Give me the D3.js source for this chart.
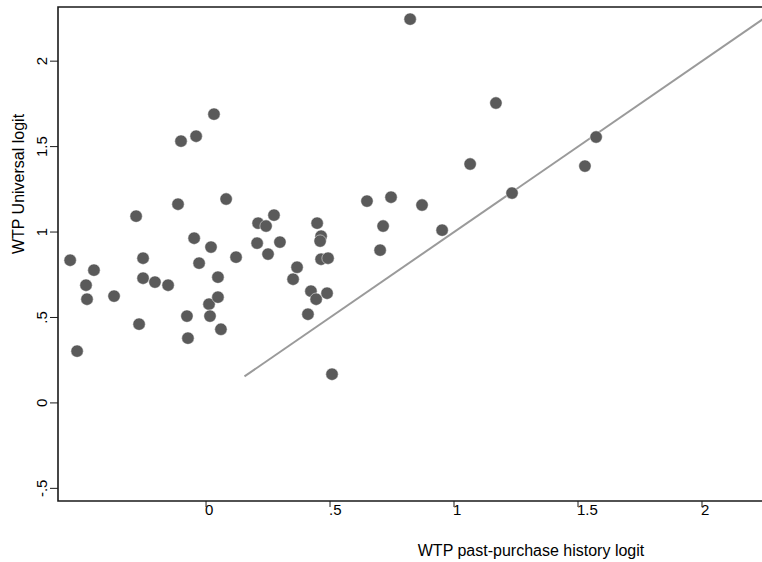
<!DOCTYPE html>
<html>
<head>
<meta charset="utf-8">
<script src="https://cdn.jsdelivr.net/npm/d3@7"></script>
<style>
  body { margin: 0; background: #fff; }
  text { font-family: "Liberation Sans", Arial, Helvetica, sans-serif; fill: #000; }
</style>
</head>
<body>
<div id="chart"></div>
<script>
// Data
const pastPurchase = [
  -0.548, -0.520, -0.484, -0.480, -0.452, -0.371, -0.282, -0.270, -0.254, -0.254,
  -0.206, -0.153, -0.113, -0.101, -0.077, -0.073, -0.048, -0.040, -0.028, 0.012,
  0.016, 0.020, 0.032, 0.048, 0.048, 0.060, 0.081, 0.121, 0.206, 0.210,
  0.242, 0.250, 0.274, 0.298, 0.351, 0.367, 0.411, 0.423, 0.444, 0.448,
  0.464, 0.460, 0.464, 0.492, 0.488, 0.508, 0.649, 0.702, 0.714, 0.746,
  0.823, 0.871, 0.952, 1.065, 1.169, 1.234, 1.528, 1.573
];
const universal = [
  0.835, 0.303, 0.689, 0.607, 0.777, 0.625, 1.093, 0.461, 0.847, 0.730,
  0.707, 0.689, 1.163, 1.532, 0.508, 0.379, 0.964, 1.561, 0.818, 0.578,
  0.508, 0.912, 1.690, 0.736, 0.619, 0.431, 1.193, 0.853, 0.935, 1.052,
  1.035, 0.871, 1.099, 0.941, 0.724, 0.794, 0.519, 0.654, 0.607, 1.052,
  0.976, 0.947, 0.841, 0.847, 0.642, 0.168, 1.181, 0.894, 1.035, 1.204,
  2.246, 1.158, 1.011, 1.398, 1.755, 1.228, 1.386, 1.556
];
// 45-degree reference line (y = x)
const lineX = [0.155, 2.3];

const xTicks = [0, 0.5, 1, 1.5, 2];
const xTickLabels = ["0", ".5", "1", "1.5", "2"];
const yTicks = [-0.5, 0, 0.5, 1, 1.5, 2];
const yTickLabels = ["-.5", "0", ".5", "1", "1.5", "2"];

const width = 762, height = 562;
const plot = { left: 58, top: 7, right: 762, bottom: 501 };

const svg = d3.select("#chart").append("svg")
  .attr("width", width)
  .attr("height", height);

const x = d3.scaleLinear().domain([-0.597, 2.242]).range([plot.left, plot.right]);
const y = d3.scaleLinear().domain([-0.574, 2.317]).range([plot.bottom, plot.top]);

svg.append("clipPath").attr("id", "clip")
  .append("rect")
  .attr("x", plot.left).attr("y", plot.top)
  .attr("width", plot.right - plot.left).attr("height", plot.bottom - plot.top);

// reference line
svg.append("path")
  .datum(lineX)
  .attr("clip-path", "url(#clip)")
  .attr("fill", "none")
  .attr("stroke", "#9a9a9a")
  .attr("stroke-width", 2)
  .attr("d", d3.line().x(d => x(d)).y(d => y(d)));

// points
const points = pastPurchase.map((d, i) => ({ x: d, y: universal[i] }));
svg.append("g")
  .selectAll("circle")
  .data(points)
  .join("circle")
  .attr("cx", d => x(d.x))
  .attr("cy", d => y(d.y))
  .attr("r", 6.2)
  .attr("fill", "#5a5a5a")
  .attr("stroke", "#fff")
  .attr("stroke-width", 0.5);

// frame (right edge runs off the page)
svg.append("path")
  .attr("fill", "none")
  .attr("stroke", "#1a1a1a")
  .attr("stroke-width", 1.6)
  .attr("d", `M${width + 2},${plot.top}H${plot.left}V${plot.bottom}H${width + 2}`);

// y axis ticks
const yAxis = svg.append("g");
yAxis.selectAll("line")
  .data(yTicks)
  .join("line")
  .attr("x1", plot.left - 8).attr("x2", plot.left)
  .attr("y1", d => y(d)).attr("y2", d => y(d))
  .attr("stroke", "#1a1a1a")
  .attr("stroke-width", 1);
yAxis.selectAll("text")
  .data(yTicks)
  .join("text")
  .attr("transform", d => `translate(47,${y(d)}) rotate(-90)`)
  .attr("text-anchor", "middle")
  .style("font-size", "15px")
  .text((d, i) => yTickLabels[i]);

// x axis ticks
const xAxis = svg.append("g");
xAxis.selectAll("line")
  .data(xTicks)
  .join("line")
  .attr("x1", d => x(d)).attr("x2", d => x(d))
  .attr("y1", plot.bottom).attr("y2", plot.bottom + 6)
  .attr("stroke", "#1a1a1a")
  .attr("stroke-width", 1);
xAxis.selectAll("text")
  .data(xTicks)
  .join("text")
  .attr("x", d => x(d) - 1)
  .attr("y", 515)
  .attr("text-anchor", "start")
  .style("font-size", "15px")
  .text((d, i) => xTickLabels[i]);

// axis titles
svg.append("text")
  .attr("x", 531).attr("y", 556)
  .attr("text-anchor", "middle")
  .style("font-size", "16px")
  .text("WTP past-purchase history logit");

svg.append("text")
  .attr("transform", "translate(24,184) rotate(-90)")
  .attr("text-anchor", "middle")
  .style("font-size", "16px")
  .text("WTP Universal logit");
</script>
</body>
</html>
